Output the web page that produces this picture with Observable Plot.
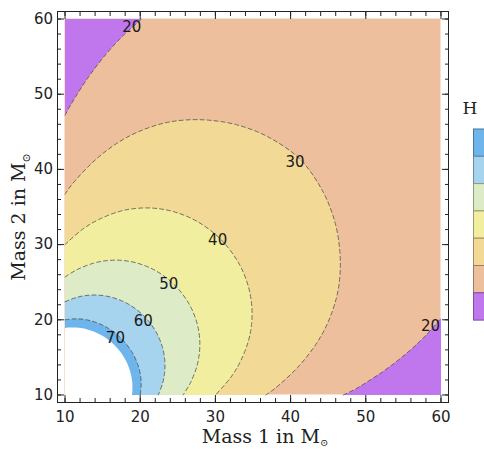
<!DOCTYPE html>
<html><head><meta charset="utf-8">
<script src="https://cdn.jsdelivr.net/npm/d3@7"></script>
<script src="https://cdn.jsdelivr.net/npm/@observablehq/plot@0.6"></script>
<style>
body{margin:0;background:#fff}
#chart{position:relative;width:484px;height:449px;overflow:hidden}
</style>
</head><body><div id="chart"></div>
<script>
// ---- data ----
const majorTicks = [10, 20, 30, 40, 50, 60];
const minorTicks = [10,12,14,16,18,20,22,24,26,28,30,32,34,36,38,40,42,44,46,48,50,52,54,56,58,60];
const levels = [20, 30, 40, 50, 60, 70, 80];
// band colours: <20, 20-30, 30-40, 40-50, 50-60, 60-70, 70-80
const bandColors = ["#C077EE", "#EDBF9C", "#F3D996", "#F2EE9F", "#DDEBC6", "#A6D3EE", "#6DB5EB"];
const legendTitle = "H";

// contour lines [mass1, mass2]
const c20TopLeft = [[10,47.2],[10.81,48.67],[11.86,50.38],[13.04,52.18],[14.41,54.03],[15.98,55.93],[17.8,57.86],[20.2,60]];
const c20BottomRight = [[47.0,10],[48.67,10.81],[50.38,11.86],[52.18,13.04],[54.03,14.41],[55.93,15.98],[57.86,17.8],[60,20.2]];
const c30 = [[10,36.7],[10.82,37.86],[13.64,40.91],[16.66,43.31],[19.53,44.91],[23.07,46.13],[25.87,46.56],[29.07,46.55],[32.81,45.94],[36.95,44.35],[41.3,41.3],[44.35,36.95],[45.94,32.81],[46.55,29.07],[46.56,25.87],[46.13,23.07],[44.91,19.53],[43.31,16.66],[40.91,13.64],[37.86,10.82],[36.7,10]];
const c40 = [[10,30.0],[12.31,32.02],[14.5,33.34],[17.19,34.39],[19.33,34.8],[21.78,34.84],[24.54,34.35],[27.57,33.08],[30.7,30.7],[33.08,27.57],[34.35,24.54],[34.84,21.78],[34.8,19.33],[34.39,17.19],[33.34,14.5],[32.02,12.31],[30.0,10]];
const c50 = [[10,25.7],[11.6,26.67],[13.76,27.52],[15.48,27.86],[17.44,27.91],[19.66,27.52],[22.09,26.51],[24.6,24.6],[26.51,22.09],[27.52,19.66],[27.91,17.44],[27.86,15.48],[27.52,13.76],[26.67,11.6],[25.7,10]];
const c60 = [[10,22.4],[11.48,22.96],[12.91,23.24],[14.54,23.27],[16.39,22.94],[18.41,22.09],[20.5,20.5],[22.09,18.41],[22.94,16.39],[23.27,14.54],[23.24,12.91],[22.96,11.48],[22.4,10]];
const c70 = [[10,20.0],[11.18,20.12],[12.53,20.05],[14.05,19.68],[15.74,18.88],[17.5,17.5],[18.88,15.74],[19.68,14.05],[20.05,12.53],[20.12,11.18],[20.0,10]];
const c80 = [[10,18.9],[10.53,18.96],[11.83,18.93],[13.3,18.62],[14.92,17.9],[16.6,16.6],[17.9,14.92],[18.62,13.3],[18.93,11.83],[18.96,10.53],[18.9,10]];

// contour labels [mass1, mass2, text]
const contourLabels = [[18.87,58.9,"20"],[40.6,40.9,"30"],[30.3,30.6,"40"],[23.8,24.8,"50"],[20.4,19.8,"60"],[16.7,17.5,"70"],[58.6,19.2,"20"]];

// ---- drawing ----
const xMin = majorTicks[0], xMax = majorTicks[majorTicks.length - 1];

// catmull-rom through the contour points, then a straight run to the corner (last point) and closed
function cornerCurve(context) {
  let pts = [];
  return {
    areaStart() {}, areaEnd() {},
    lineStart() { pts = []; },
    point(x, y) { pts.push([+x, +y]); },
    lineEnd() {
      const corner = pts.pop();
      const c = d3.curveCatmullRom(context);
      c.lineStart();
      for (const [x, y] of pts) c.point(x, y);
      c.lineEnd();
      context.lineTo(corner[0], corner[1]);
      context.closePath();
    }
  };
}

const X = d => d[0], Y = d => d[1];
function region(points, corner, color) {
  return Plot.line(points.concat([corner]), {x: X, y: Y, fill: color, stroke: "none", curve: cornerCurve});
}
function dashed(points) {
  return Plot.line(points, {x: X, y: Y, stroke: "#4a4a4a", strokeOpacity: 0.75, strokeWidth: 1, strokeDasharray: "4,3", curve: "catmull-rom"});
}

const innerContours = [c30, c40, c50, c60, c70, c80];
const innerColors = [bandColors[2], bandColors[3], bandColors[4], bandColors[5], bandColors[6], "#FFFFFF"];

const plot = Plot.plot({
  width: 484, height: 449,
  marginLeft: 57, marginRight: 36, marginTop: 11, marginBottom: 47,
  x: {domain: [xMin - 1, xMax + 1], label: null},
  y: {domain: [xMin - 1, xMax + 1], label: null},
  style: {fontFamily: "'DejaVu Sans', sans-serif", fontSize: "15px", color: "#222", background: "#fff"},
  marks: [
    Plot.rect([{x1: xMin, x2: xMax, y1: xMin, y2: xMax}], {x1: "x1", x2: "x2", y1: "y1", y2: "y2", fill: bandColors[1]}),
    region(c20TopLeft, [xMin, xMax], bandColors[0]),
    region(c20BottomRight, [xMax, xMin], bandColors[0]),
    ...innerContours.map((c, i) => region(c, [xMin, xMin], innerColors[i])),
    dashed(c20TopLeft), dashed(c20BottomRight),
    dashed(c30), dashed(c40), dashed(c50), dashed(c60), dashed(c70),
    Plot.text(contourLabels, {x: d => d[0], y: d => d[1], text: d => d[2], fontSize: 15, fill: "#1a1a1a"}),
    Plot.axisX(majorTicks, {anchor: "bottom", tickSize: -7, tickPadding: 16, label: null, fontSize: 15}),
    Plot.axisX(minorTicks, {anchor: "bottom", tickSize: -4, tickFormat: () => "", label: null}),
    Plot.axisX(majorTicks, {anchor: "top", tickSize: -7, tickFormat: () => "", label: null}),
    Plot.axisX(minorTicks, {anchor: "top", tickSize: -4, tickFormat: () => "", label: null}),
    Plot.axisY(majorTicks, {anchor: "left", tickSize: -7, tickPadding: 11.5, label: null, fontSize: 15}),
    Plot.axisY(minorTicks, {anchor: "left", tickSize: -4, tickFormat: () => "", label: null}),
    Plot.axisY(majorTicks, {anchor: "right", tickSize: -7, tickFormat: () => "", label: null}),
    Plot.axisY(minorTicks, {anchor: "right", tickSize: -4, tickFormat: () => "", label: null}),
    Plot.frame({stroke: "#222", strokeWidth: 1})
  ]
});
document.getElementById("chart").appendChild(plot);

// axis titles and legend
const svg = d3.select(plot);
const serif = "'DejaVu Serif', 'Liberation Serif', serif";
const xt = svg.append("text").attr("x", 265).attr("y", 443).attr("text-anchor", "middle")
  .attr("font-family", serif).attr("font-size", 19).attr("fill", "#222");
xt.append("tspan").text("Mass 1 in M");
xt.append("tspan").attr("font-size", 10).attr("dy", 3).text("⊙");
const yt = svg.append("text").attr("transform", "translate(25,217) rotate(-90)").attr("text-anchor", "middle")
  .attr("font-family", serif).attr("font-size", 19).attr("fill", "#222");
yt.append("tspan").text("Mass 2 in M");
yt.append("tspan").attr("font-size", 11).attr("dy", 5).text("⊙");

const lg = svg.append("g");
lg.append("text").attr("x", 470).attr("y", 114).attr("font-family", serif).attr("font-size", 17).attr("fill", "#222").text(legendTitle);
const swatches = bandColors.slice().reverse();
swatches.forEach((c, i) => {
  lg.append("rect").attr("x", 473.5).attr("y", 129 + i * 27.3).attr("width", 20).attr("height", 27.3)
    .attr("fill", c).attr("stroke", d3.color(c).darker(1.2)).attr("stroke-width", 1);
});
</script>
</body></html>
